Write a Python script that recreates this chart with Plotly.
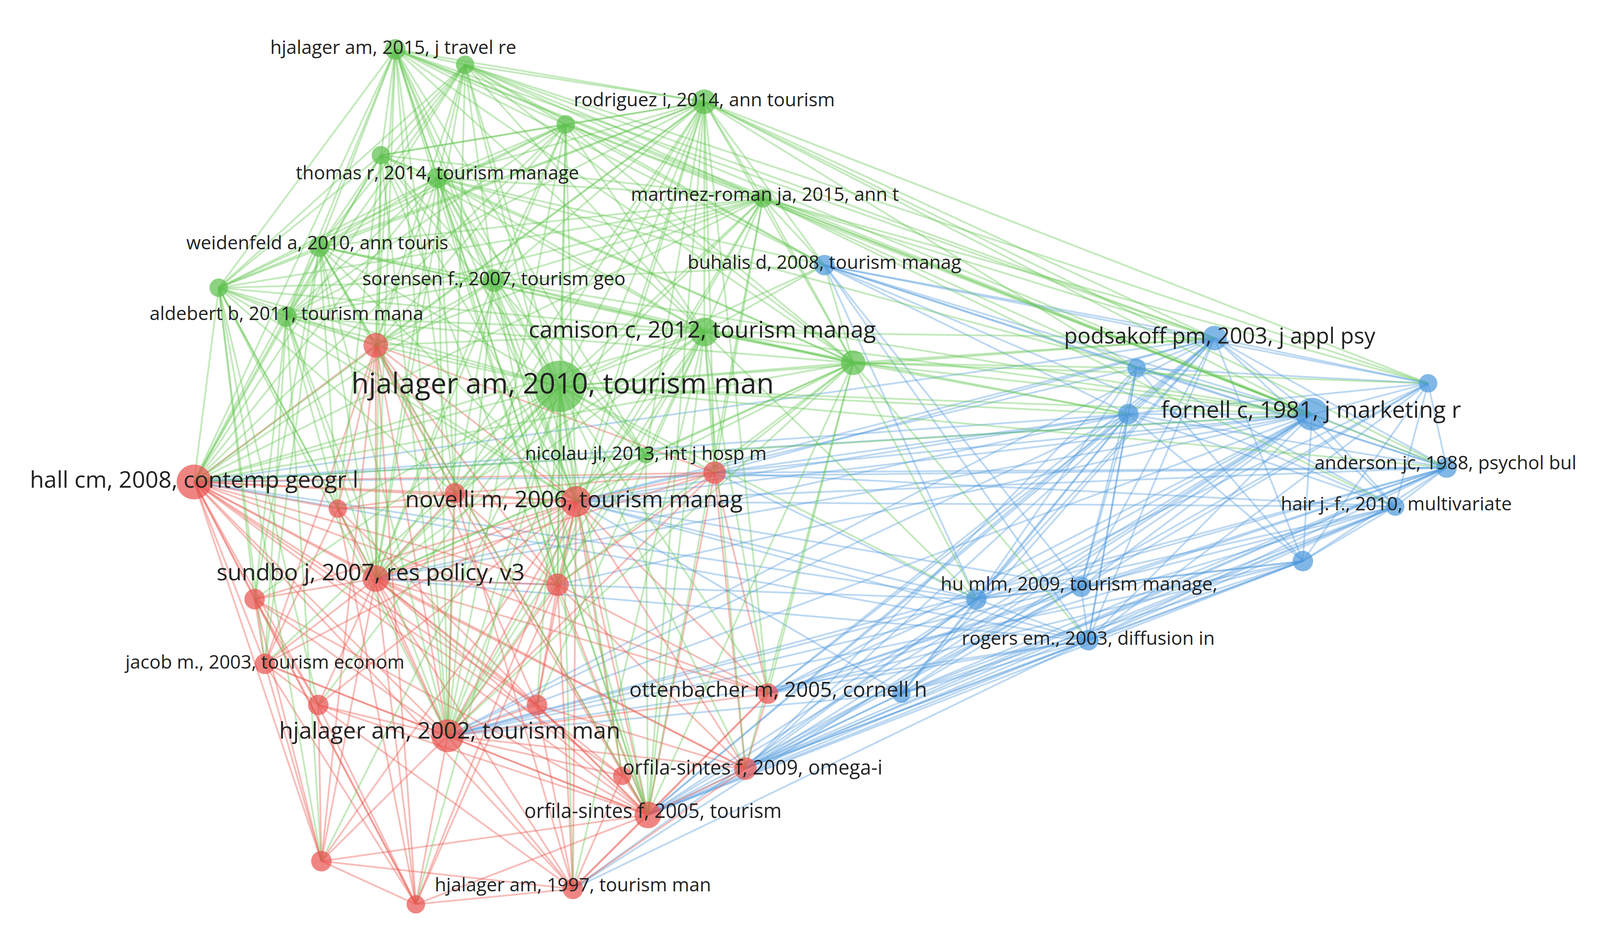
import plotly.graph_objects as go

node_ids = ["G0","G1","G2","G3","G4","G5","G6","G7","G8","G9","G10","G11","G12","G13","G14",
            "R0","R1","R2","R3","R4","R5","R6","R7","R8","R9","R10","R11","R12","R13","R14","R15","R16","R17","R18","R19",
            "B0","B1","B2","B3","B4","B5","B6","B7","B8","B9","B10","B11","B12"]
node_x = [382,450,548,683,368,423,740,308,210,478,276,683,828,542,626,
          186,363,326,440,558,693,363,245,540,255,307,520,433,745,603,723,628,310,402,555,
          800,1180,1104,1275,1096,1388,1406,1356,1266,948,1050,1057,875]
node_y = [45,60,118,96,148,170,190,237,277,270,305,320,350,373,440,
          466,333,492,477,485,457,560,580,566,643,683,683,713,672,752,745,790,835,877,862,
          255,326,355,400,400,370,452,490,543,580,568,620,672]
node_r = [10,9,9,12,9,10,9,10,9,11,10,14,12,25,8,
          17,12,9,10,15,11,13,10,11,10,10,10,16,10,9,11,13,10,9,10,
          10,12,9,16,10,9,10,9,10,10,10,10,9]

edges_txt = """
G0: G1 G2 G3 G4 G5 G6 G7 G8 G9 G10 G11 G12 G13 G14 R0 R1 R3 R4 R6 R8 R12 R16 B0 B1 B3
G1: G2 G3 G4 G5 G6 G7 G8 G9 G10 G11 G12 G13 R0 R1 R4 R6 R12 B0 B1 B3 B5
G2: G3 G4 G5 G6 G7 G8 G9 G10 G11 G12 G13 R0 R1 R4 R6 R8 R12 B0 B3
G3: G4 G5 G6 G7 G8 G9 G10 G11 G12 G13 G14 R0 R1 R3 R4 R5 R6 R8 R12 R13 R16 B0 B1 B2 B3 B5 B6
G4: G5 G6 G7 G8 G9 G10 G11 G12 G13 R0 R1 R2 R4 R6 R12 R16
G5: G6 G7 G8 G9 G10 G11 G12 G13 G14 R0 R1 R3 R4 R6 R8 R12 R16 B0 B3
G6: G7 G8 G9 G10 G11 G12 G13 R0 R1 R4 R5 R6 R12 R16 B0 B1 B2 B3 B5 B6 B7
G7: G8 G9 G10 G11 G12 G13 R0 R1 R2 R3 R4 R6 R7 R9 R12 R16
G8: G9 G10 G11 G13 R0 R1 R2 R3 R4 R6 R7 R9 R10 R12 R17
G9: G10 G11 G12 G13 G14 R0 R1 R3 R4 R6 R8 R12 R16 B0 B3
G10: G11 G12 G13 R0 R1 R2 R4 R6 R7 R9 R12 R17
G11: G12 G13 G14 R0 R1 R3 R4 R5 R6 R8 R11 R12 R13 R15 R16 R19 B0 B1 B3 B4 B9
G12: G13 G14 R0 R4 R5 R6 R8 R12 R13 R15 R16 B0 B1 B2 B3 B4 B5 B9 B11
G13: G14 R0 R1 R2 R3 R4 R5 R6 R7 R8 R9 R10 R11 R12 R13 R14 R15 R16 R17 R18 R19 B0 B1 B3 B4 B6 B9
G14: R0 R4 R6 R12 R16 B3
R0: R1 R2 R3 R4 R5 R6 R7 R8 R9 R10 R11 R12 R13 R14 R15 R16 R17 R18 R19 B1 B3 B4 B6 B9 B11
R1: R2 R3 R4 R5 R6 R8 R9 R11 R12 R16 R17 R18
R2: R3 R4 R6 R9 R12 R16 R18
R3: R4 R5 R6 R8 R12 R16 R19
R4: R5 R6 R7 R8 R9 R10 R11 R12 R13 R14 R15 R16 R17 R18 R19 B1 B2 B3 B4 B6 B7 B9 B10 B11 B12
R5: R6 R8 R12 R13 R15 R16 B1 B3 B4 B6 B7 B9
R6: R7 R8 R9 R10 R11 R12 R13 R14 R15 R16 R17 R18 R19 B3 B4 B9 B11
R7: R9 R10 R12 R16 R17 R18
R8: R11 R12 R13 R15 R16 R18 R19 B3
R9: R10 R12 R16 R17 R18
R10: R12 R16 R17 R18 R19
R11: R12 R15 R16 R19
R12: R13 R14 R15 R16 R17 R18 R19 B1 B3 B4 B6 B8 B9 B10 B11 B12
R13: R15 R16 R19 B1 B3 B4 B6 B7 B8 B9 B10 B11
R14: R16 R19
R15: R16 R19 B1 B2 B3 B5 B6 B7 B8 B9 B10 B11 B12
R16: R17 R18 R19 B1 B3 B4 B6 B7 B8 B9 B10 B11 B12
R17: R18 R19
R18: R19
R19: B3 B9 B11
B0: B1 B2 B3 B4 B5 B6 B7 B9 B10 B11
B1: B2 B3 B4 B5 B6 B7 B8 B9 B10 B11 B12
B2: B3 B4 B5 B6 B7 B8 B9 B10 B11
B3: B4 B5 B6 B7 B8 B9 B10 B11 B12
B4: B5 B6 B7 B8 B9 B10 B11 B12
B5: B6 B7 B8 B9 B10 B11
B6: B7 B8 B9 B10 B11 B12
B7: B8 B9 B10 B11 B12
B8: B9 B10 B11 B12
B9: B10 B11 B12
B10: B11 B12
B11: B12
"""

label_text = ["hjalager am, 2015, j travel re","rodriguez i, 2014, ann tourism","thomas r, 2014, tourism manage",
    "martinez-roman ja, 2015, ann t","weidenfeld a, 2010, ann touris","sorensen f., 2007, tourism geo",
    "aldebert b, 2011, tourism mana","buhalis d, 2008, tourism manag","camison c, 2012, tourism manag",
    "hjalager am, 2010, tourism man","podsakoff pm, 2003, j appl psy","fornell c, 1981, j marketing r",
    "nicolau jl, 2013, int j hosp m","anderson jc, 1988, psychol bul","hall cm, 2008, contemp geogr l",
    "novelli m, 2006, tourism manag","hair j. f., 2010, multivariate","sundbo j, 2007, res policy, v3",
    "hu mlm, 2009, tourism manage,","rogers em., 2003, diffusion in","jacob m., 2003, tourism econom",
    "ottenbacher m, 2005, cornell h","hjalager am, 2002, tourism man","orfila-sintes f, 2009, omega-i",
    "orfila-sintes f, 2005, tourism","hjalager am, 1997, tourism man"]
label_x = [380,683,423,742,306,478,276,800,681,545,1185,1274,626,1405,186,556,1357,358,1048,1057,255,755,435,730,633,555]
label_y = [45,96,167,188,235,270,304,254,320,373,326,398,440,449,466,485,489,556,567,620,643,670,710,746,788,860]
label_size = [17,17,17,17,17,17,17,17,21,26,20,21,17,17,21,21,17,21,17,17,17,19,21,18,18,17]

SX = 4100 / 1560
FS = SX * 1.07
node_col = {"G": "#5bbf4b", "R": "#e8514f", "B": "#4c98dc"}
edge_col = {"G": "rgba(96,196,80,0.38)", "R": "rgba(236,90,80,0.40)", "B": "rgba(80,152,220,0.38)"}

idx = {n: i for i, n in enumerate(node_ids)}
ex = {"G": [], "R": [], "B": []}
ey = {"G": [], "R": [], "B": []}
for line in edges_txt.strip().splitlines():
    src, rest = line.split(":")
    src = src.strip()
    for dst in rest.split():
        a, b = idx[src], idx[dst]
        c = src[0] if src[0] == dst[0] else ("B" if "B" in (src[0], dst[0]) and src[0] == "R" else src[0])
        ex[c] += [node_x[a], node_x[b], None]
        ey[c] += [node_y[a], node_y[b], None]

fig = go.Figure()
for c in ["B", "R", "G"]:
    fig.add_trace(go.Scatter(x=ex[c], y=ey[c], mode="lines",
                             line=dict(color=edge_col[c], width=4.5), hoverinfo="skip", showlegend=False))
for c in ["R", "B", "G"]:
    ii = [i for i, n in enumerate(node_ids) if n[0] == c]
    fig.add_trace(go.Scatter(x=[node_x[i] for i in ii], y=[node_y[i] for i in ii], mode="markers",
                             marker=dict(color=node_col[c], size=[2 * node_r[i] * SX for i in ii], line=dict(width=0)),
                             showlegend=False))
fig.add_trace(go.Scatter(x=label_x, y=label_y, mode="text", text=label_text,
                         textposition="middle center",
                         textfont=dict(family="Open Sans", color="#222222", size=[s * FS for s in label_size]),
                         showlegend=False))
fig.update_xaxes(range=[0, 1560], visible=False)
fig.update_yaxes(range=[907, 0], visible=False)
fig.update_layout(width=4100, height=2385, margin=dict(l=0, r=0, t=0, b=0),
                  plot_bgcolor="white", paper_bgcolor="white")
fig.write_html("out.html")
